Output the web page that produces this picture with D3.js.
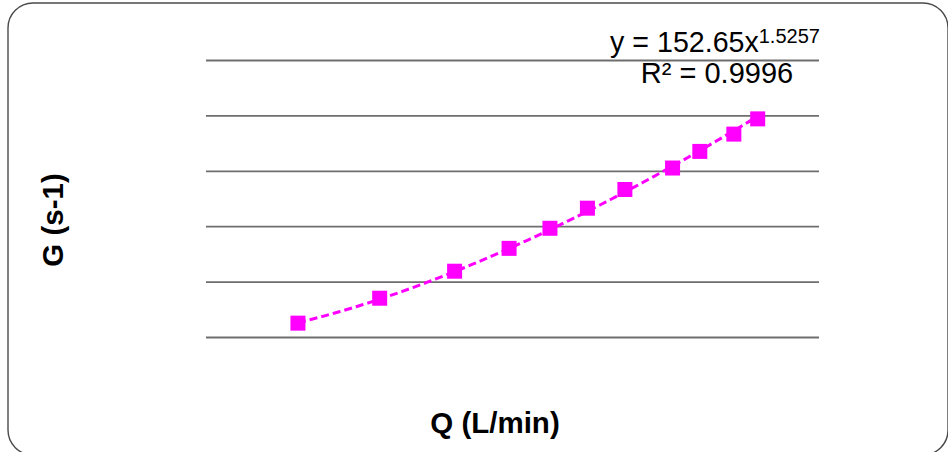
<!DOCTYPE html>
<html>
<head>
<meta charset="utf-8">
<script src="https://cdn.jsdelivr.net/npm/d3@7"></script>
<style>
  html, body { margin: 0; padding: 0; background: #fff; }
  svg { display: block; font-family: "Liberation Sans", Arial, sans-serif; }
</style>
</head>
<body>
<svg id="chart" width="948" height="452"></svg>
<script>
// Data
const flowQ = [0.27, 0.51, 0.73, 0.89, 1.01, 1.12, 1.23, 1.37, 1.45, 1.55, 1.62];
const gradientG = [20, 56, 95, 128, 157, 186, 213, 244, 268, 293, 315];
const yTicks = [0, 80, 160, 240, 320, 400];
const trendCoef = 152.65;
const trendExp = 1.5257;
const trendLabel = "y = 152.65x";
const trendExpLabel = "1.5257";
const r2Label = "R² = 0.9996";
const xTitle = "Q (L/min)";
const yTitle = "G (s-1)";

const svg = d3.select("#chart");

// Outer chart border (rounded)
svg.append("rect")
  .attr("x", 8).attr("y", 3)
  .attr("width", 940).attr("height", 452)
  .attr("rx", 25).attr("ry", 25)
  .attr("fill", "#fff")
  .attr("stroke", "#4a4a4a")
  .attr("stroke-width", 1.4);

const x = d3.scaleLinear().domain([0, 1.8]).range([206, 819]);
const y = d3.scaleLinear().domain([0, 400]).range([337, 60]);

// Gridlines via axis
const grid = svg.append("g")
  .attr("transform", `translate(${x.range()[0]},0)`)
  .call(d3.axisLeft(y).tickValues(yTicks)
    .tickSize(-(x.range()[1] - x.range()[0]))
    .tickFormat(""));
grid.select(".domain").remove();
grid.selectAll(".tick line")
  .attr("stroke", "#6e6e6e")
  .attr("stroke-width", 1.8);

// Trendline (power fit shown on the chart)
const xs = d3.range(0, 101).map(i => flowQ[0] + (flowQ[flowQ.length - 1] - flowQ[0]) * i / 100);
const trend = xs.map(v => [v, trendCoef * Math.pow(v, trendExp)]);
svg.append("path")
  .datum(trend)
  .attr("fill", "none")
  .attr("stroke", "#ff00ff")
  .attr("stroke-width", 3)
  .attr("stroke-dasharray", "8,4")
  .attr("d", d3.line().x(d => x(d[0])).y(d => y(d[1])));

// Markers
const pts = flowQ.map((q, i) => ({ q, g: gradientG[i] }));
const ms = 15;
svg.append("g").selectAll("rect")
  .data(pts).join("rect")
  .attr("x", d => x(d.q) - ms / 2)
  .attr("y", d => y(d.g) - ms / 2)
  .attr("width", ms).attr("height", ms)
  .attr("fill", "#ff00ff");

// Equation label
const eq = svg.append("text")
  .attr("x", 715).attr("y", 52)
  .attr("text-anchor", "middle")
  .attr("font-size", 28.6)
  .attr("fill", "#000");
eq.append("tspan").text(trendLabel);
eq.append("tspan").attr("font-size", 20).attr("dy", -9.5).text(trendExpLabel);

svg.append("text")
  .attr("x", 717).attr("y", 83)
  .attr("text-anchor", "middle")
  .attr("font-size", 29)
  .attr("fill", "#000")
  .text(r2Label);

// Axis titles
svg.append("text")
  .attr("x", 495).attr("y", 433)
  .attr("text-anchor", "middle")
  .attr("font-size", 29.5)
  .attr("font-weight", "bold")
  .text(xTitle);

svg.append("text")
  .attr("transform", "translate(63,220) rotate(-90)")
  .attr("text-anchor", "middle")
  .attr("font-size", 29.5)
  .attr("font-weight", "bold")
  .text(yTitle);
</script>
</body>
</html>
